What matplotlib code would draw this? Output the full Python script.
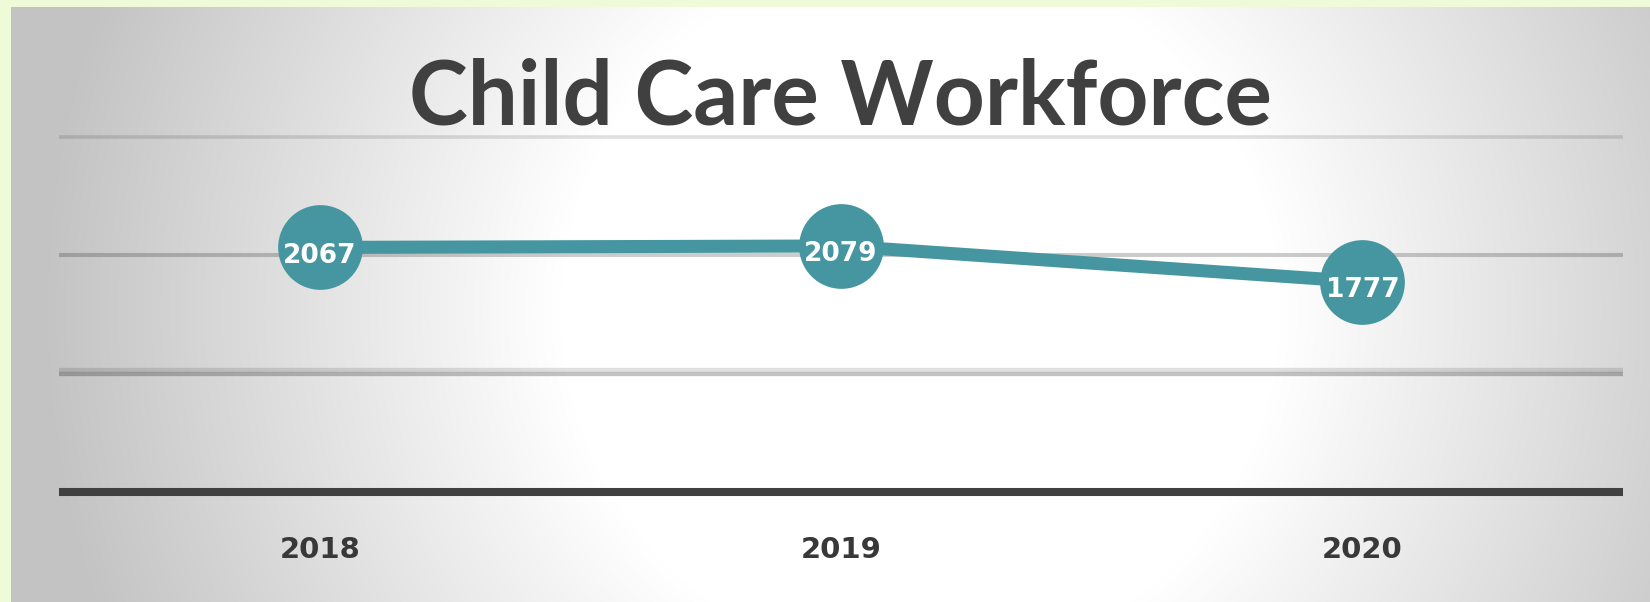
import numpy as np
import matplotlib.pyplot as plt
from matplotlib.patches import Rectangle

# ============= 数据 =============
years = ['2018', '2019', '2020']
workforce = [2067, 2079, 1777]
title = 'Child Care Workforce'

teal = '#4596a0'
dark = '#404040'

W, H = 1650, 602
fig = plt.figure(figsize=(W / 100, H / 100), dpi=100)

# ============= 背景（径向渐变 + 边框）=============
bg = fig.add_axes([0, 0, 1, 1], zorder=0)
yy, xx = np.mgrid[0:H, 0:W]
r = np.sqrt((xx - 920.0) ** 2 + ((yy - 310.0) * 1.0) ** 2)
t = np.clip((r - 360) / 520, 0, 1)
v = 1 - 0.235 * t
img = np.dstack([v, v, v])
bg.imshow(img, extent=(0, W, H, 0), aspect='auto', interpolation='bilinear')
bg.add_patch(Rectangle((0, 0), W, 7, color='#eefad8', lw=0))
bg.add_patch(Rectangle((0, 0), 11, H, color='#eefad8', lw=0))
bg.set_xlim(0, W)
bg.set_ylim(H, 0)
bg.axis('off')

# ============= 图表区域 =============
left_px, right_px = 59, 1623
base_px, top_px = 492, 137
ax = fig.add_axes([left_px / W, (H - base_px) / H,
                   (right_px - left_px) / W, (base_px - top_px) / H], zorder=1)
ax.patch.set_alpha(0)
x = np.arange(len(years))
ax.set_xlim(-0.5, len(years) - 0.5)
ax.set_ylim(0, 3000)

# 网格线
ax.axhline(3000, color='black', alpha=0.12, lw=2.6, clip_on=False, solid_capstyle='butt')
ax.axhline(2000, color='black', alpha=0.2, lw=2.9, solid_capstyle='butt')
ax.axhline(1031, color='black', alpha=0.12, lw=3.1, solid_capstyle='butt')
ax.axhline(994, color='black', alpha=0.24, lw=3.1, solid_capstyle='butt')
ax.axhline(0, color=dark, lw=5.8, clip_on=False, zorder=3, solid_capstyle='butt')

ax.plot(x, workforce, color=teal, lw=9.4, solid_capstyle='butt', zorder=4,
        marker='o', markersize=61, markerfacecolor=teal, markeredgewidth=0)
for xi, val in zip(x, workforce):
    ax.annotate(str(val), (xi, val), xytext=(0, -6), textcoords='offset points',
                ha='center', va='center', color='white', fontsize=19,
                fontweight='bold', zorder=5)

ax.set_xticks(x)
ax.set_xticklabels(years, fontsize=21, color='#383838', fontweight='bold')
ax.tick_params(axis='x', length=0, pad=32)
ax.set_yticks([])
for s in ax.spines.values():
    s.set_visible(False)

fig.text(840 / W, 1 - 98 / H, title, ha='center', va='center',
         fontsize=64, color=dark, family='Lato', fontweight='bold')

fig.savefig('out.png', dpi=100)
